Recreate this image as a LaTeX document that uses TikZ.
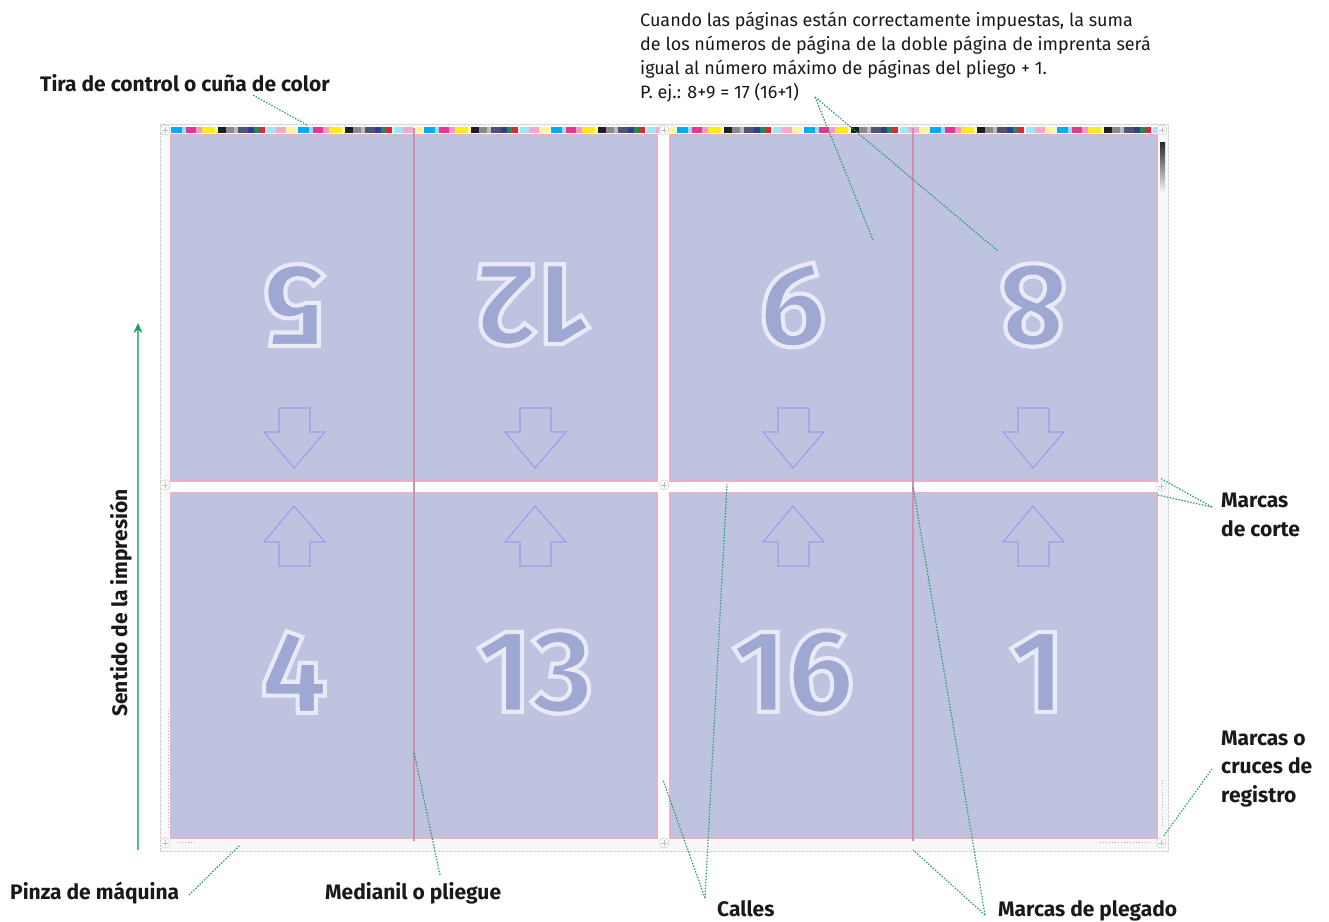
\documentclass[tikz,border=0pt]{standalone}
\usepackage{fontspec}
\setmainfont{Fira Sans}
\newfontfamily\numfont[FakeBold=3.5]{Fira Sans}
\usetikzlibrary{calc,arrows.meta}
\definecolor{pagefill}{HTML}{BEC4E0}
\definecolor{pagetrim}{HTML}{E0B4CC}
\definecolor{foldline}{HTML}{CF8FAE}
\definecolor{arrowline}{HTML}{9E9BEC}
\definecolor{digitfill}{HTML}{9FA8D2}
\definecolor{leader}{HTML}{2E9A78}
\definecolor{flowline}{HTML}{58B98A}
\definecolor{flowhead}{HTML}{1FA060}
\definecolor{sheetline}{HTML}{CFCFCF}
\definecolor{sheetfill}{HTML}{F9F8F8}
\tikzset{
  page/.style={fill=pagefill,draw=pagetrim,line width=2.6pt},
  fold/.style={foldline,line width=1.2pt},
  pagearrow/.style={draw=arrowline,line width=1.1pt},
  lead/.style={leader,line width=1.2pt,dash pattern=on 1.5pt off 1.5pt},
  lbl/.style={font=\fontsize{21}{28.5}\selectfont\bfseries,inner sep=0pt,text=black!90},
  note/.style={font=\fontsize{18}{24}\selectfont,inner sep=0pt,align=left,anchor=north west,text=black!90},
  digits/.style={inner sep=0pt,font=\numfont\fontsize{118}{120}\selectfont\bfseries,text=digitfill},
  regmark/.style={draw=black!20,line width=.5pt,fill=white,circle,minimum size=10pt,inner sep=0pt},
}
\newcommand{\numtext}[1]{\special{pdf:code 0.91 0.92 0.97 RG}#1}
\begin{document}
\begin{tikzpicture}[x=1pt,y=-1pt]
\useasboundingbox (0,0) rectangle (1329,921);
\fill[white] (0,0) rectangle (1329,921);
% sheet
\draw[sheetline,line width=.8pt,dash pattern=on 3pt off 1pt,fill=sheetfill] (160,124) rectangle (1168,851);
\fill[white] (171,482) rectangle (1157,492);
\fill[white] (658,135) rectangle (669,838);
% colour strip
\foreach \k in {0,...,7}{
  \foreach \a/\b/\c in {0/11/00AEEF,11/15/9ADCF5,15/25/E2388F,25/31/F49AC4,31/44/FFEB1E,44/47/FFF9B0,47/55/1E1E1E,55/63/8A8A8A,63/67/BBBBBB,67/77/4E5478,77/83/2F3F8F,83/88/1F8A55,88/94/D42A3A,94/96/F2F2F2,96/105/A6E4F5,105/115/F6A8CF,115/125/FFF6A0}{
    \pgfmathsetmacro{\xa}{171+\a+126.5*\k}
    \pgfmathsetmacro{\xb}{min(171+\b+126.5*\k,1157)}
    \ifdim\xb pt>\xa pt
      \definecolor{stripcol}{HTML}{\c}
      \fill[stripcol] (\xa,127) rectangle (\xb,133);
    \fi
  }
}
% pages
\draw[page] (171,135) rectangle (657,481);
\draw[page] (670,135) rectangle (1157,481);
\draw[page] (171,493) rectangle (657,838);
\draw[page] (670,493) rectangle (1157,838);
% fold lines
\draw[fold] (414,128) -- (414,841);
\draw[fold] (913,128) -- (913,841);
% gray wedge
\shade[top color=black!85,bottom color=white] (1160,142) rectangle (1165,194);
% small marks
\foreach \x/\y/\n in {165/130/a,664/130/b,1162/130/c,165/485/d,664/485/e,1161/486/f,165/843/g,664/843/h,1161/843/i}{
  \node[regmark] (reg\n) at (\x,\y) {};
  \draw[black!25,line width=.3pt] (\x-3,\y) -- (\x+3,\y) (\x,\y-3) -- (\x,\y+3);
}
\draw[black!30,line width=1pt,dotted] (168,710) -- (168,830);
\draw[black!30,line width=1pt,dotted] (179,842) -- (197,842);
\draw[black!30,line width=1pt,dotted] (1162,780) -- (1162,828);
\draw[black!30,line width=1pt,dotted] (1100,842) -- (1149,842);
% digits
\foreach \x/\t/\n in {294/5/a,533/12/b,793/9/c,1033/8/d}{
  \node[digits,rotate=180] (top\n) at (\x,305) {\numtext{\t}};
}
\foreach \x/\t/\n in {294/4/e,535/13/f,793/16/g,1037/1/h}{
  \node[digits] (bot\n) at (\x,672) {\numtext{\t}};
}
% page arrows
\foreach \x in {294,535,793,1033}{
  \draw[pagearrow] (\x-15,408) -- (\x+16,408) -- (\x+16,432) -- (\x+31,432) -- (\x,468) -- (\x-30,432) -- (\x-15,432) -- cycle;
  \draw[pagearrow] (\x-15,566) -- (\x+16,566) -- (\x+16,542) -- (\x+31,542) -- (\x,506) -- (\x-30,542) -- (\x-15,542) -- cycle;
}
% labels
\node[lbl,anchor=base west] (tira) at (40,91) {Tira de control o cuña de color};
\node[note] (nota) at (640,12) {Cuando las páginas están correctamente impuestas, la suma\\de los números de página de la doble página de imprenta será\\igual al número máximo de páginas del pliego + 1.\\P. ej.: 8+9 = 17 (16+1)};
\node[lbl,anchor=west,align=left] (corte) at (1221,515) {Marcas\\de corte};
\node[lbl,anchor=west,align=left] (cruces) at (1221,769) {Marcas o\\cruces de\\registro};
\node[lbl,anchor=base west] (pinza) at (10,899) {Pinza de máquina};
\node[lbl,anchor=base west] (medianil) at (325,899) {Medianil o pliegue};
\node[lbl,anchor=base west] (calles) at (717,916) {Calles};
\node[lbl,anchor=base west] (plegado) at (998,916) {Marcas de plegado};
\node[lbl,anchor=base,rotate=90] (sentido) at (127,603) {Sentido de la impresión};
% green arrow
\coordinate (flowA) at (138,850);
\coordinate (flowB) at (138,323);
\draw[-{Stealth[length=10pt,width=9pt,color=flowhead]},flowline,line width=2pt] (flowA) -- (flowB);
% leaders
\coordinate (L1a) at (253,95); \coordinate (L1b) at (307,125);
\draw[lead] (L1a) -- (L1b);
\coordinate (L2a) at (815,97); \coordinate (L2b) at (873,240); \coordinate (L2c) at (998,251);
\draw[lead] (L2a) -- (L2b);
\draw[lead] (L2a) -- (L2c);
\coordinate (L3a) at (1212,507); \coordinate (L3b) at (1160,478); \coordinate (L3c) at (1158,495);
\draw[lead] (L3a) -- (L3b);
\draw[lead] (L3a) -- (L3c);
\coordinate (L4a) at (1212,769); \coordinate (L4b) at (1163,837);
\draw[lead] (L4a) -- (L4b);
\coordinate (L5a) at (189,895); \coordinate (L5b) at (240,845);
\draw[lead] (L5a) -- (L5b);
\coordinate (L6a) at (440,875); \coordinate (L6b) at (414,752);
\draw[lead] (L6a) -- (L6b);
\coordinate (L7a) at (705,898); \coordinate (L7b) at (727,484); \coordinate (L7c) at (663,780);
\draw[lead] (L7a) -- (L7b);
\draw[lead] (L7a) -- (L7c);
\coordinate (L8a) at (985,915); \coordinate (L8b) at (913,486); \coordinate (L8c) at (913,850);
\draw[lead] (L8a) -- (L8b);
\draw[lead] (L8a) -- (L8c);
\end{tikzpicture}
\end{document}
